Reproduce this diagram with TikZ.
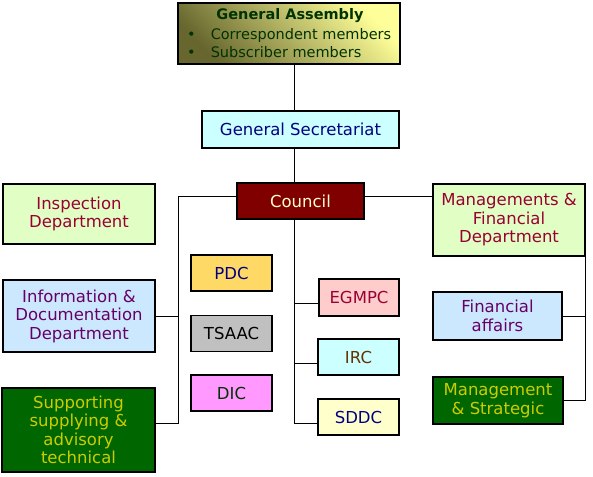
\documentclass[tikz,border=0pt]{standalone}
\usepackage{fontspec}
\setmainfont{DejaVu Sans}
\definecolor{gaDark}{HTML}{66662E}
\definecolor{gaLight}{HTML}{FFFF99}
\definecolor{gaText}{HTML}{003300}
\definecolor{gsFill}{HTML}{CCFFFF}
\definecolor{navyText}{HTML}{000080}
\definecolor{councilFill}{HTML}{800000}
\definecolor{councilText}{HTML}{FFFFCC}
\definecolor{greenFill}{HTML}{E1FFC4}
\definecolor{maroonText}{HTML}{990033}
\definecolor{blueFill}{HTML}{CCE8FF}
\definecolor{purpleText}{HTML}{660066}
\definecolor{darkGreen}{HTML}{006600}
\definecolor{yellowText}{HTML}{CCCC00}
\definecolor{pdcFill}{HTML}{FFD966}
\definecolor{tsaacFill}{HTML}{C0C0C0}
\definecolor{dicFill}{HTML}{FF99FF}
\definecolor{egmpcFill}{HTML}{FFCCCC}
\definecolor{ircText}{HTML}{663300}
\definecolor{sddcFill}{HTML}{FFFFCC}
\begin{document}
\begin{tikzpicture}[x=1pt, y=-1pt,
  box/.style={draw, line width=1.1pt, inner sep=1pt, align=center,
    font=\fontsize{16.5}{18.5}\selectfont},
  small/.style={box, minimum width=81, minimum height=36},
  wire/.style={line width=1pt}]
\useasboundingbox (0,0) rectangle (593,476);
% top of the tree
\node[box, minimum width=222, minimum height=61, top color=gaLight,
  bottom color=gaDark, shading angle=-45] (ga) at (289,33.5){};
\node[font=\bfseries\fontsize{14.5}{18}\selectfont, text=gaText] (gatitle) at (290,16){General Assembly};
\node[anchor=west, inner sep=0, align=left, text=gaText,
  font=\fontsize{14.5}{18}\selectfont] (galist) at (187,43)
  {•\hspace{15pt}Correspondent members\\ •\hspace{15pt}Subscriber members};
\node[box, fill=gsFill, text=navyText, minimum width=197, minimum height=37] (gs) at (300.5,129.5){General Secretariat};
\node[box, fill=councilFill, text=councilText, minimum width=127, minimum height=36] (council) at (300.5,201){Council};
% left column
\node[box, fill=greenFill, text=maroonText, minimum width=152, minimum height=60] (insp) at (79,214){Inspection\\ Department};
\node[box, fill=blueFill, text=purpleText, minimum width=152, minimum height=72] (info) at (79,316){Information \&\\ Documentation\\ Department};
\node[box, fill=darkGreen, text=yellowText, minimum width=153, minimum height=84] (supp) at (78.5,430){Supporting\\ supplying \&\\ advisory\\ technical};
% committees
\node[small, fill=pdcFill, text=navyText] (pdc) at (231.5,273){PDC};
\node[small, fill=tsaacFill, text=black] (tsaac) at (231.5,333.5){TSAAC};
\node[small, fill=dicFill, text=gaText] (dic) at (231.5,393){DIC};
\node[small, fill=egmpcFill, text=maroonText, minimum width=80, minimum height=37] (egmpc) at (359,297.5){EGMPC};
\node[small, fill=gsFill, text=ircText] (irc) at (358.5,357){IRC};
\node[small, fill=sddcFill, text=navyText] (sddc) at (358.5,417){SDDC};
% right column
\node[box, fill=greenFill, text=maroonText, minimum width=152, minimum height=72] (mfd) at (509,220){Managements \&\\ Financial\\ Department};
\node[box, fill=blueFill, text=purpleText, minimum width=129, minimum height=48] (fin) at (497.5,316){Financial\\ affairs};
\node[box, fill=darkGreen, text=yellowText, minimum width=130, minimum height=47] (mgs) at (498,400.5){Management\\ \& Strategic};
\coordinate (spine) at (294.5,0);
\coordinate (lbus) at (178.5,0);
% connectors
\draw[wire] (ga.south -| spine) -- (gs.north -| spine);
\draw[wire] (gs.south -| spine) -- (council.north -| spine);
\draw[wire] (council.south -| spine) |- ([yshift=-6pt]sddc.west);
\draw[wire] ([yshift=-5.5pt]egmpc.west) -- ([yshift=-5.5pt]egmpc.west -| spine);
\draw[wire] ([yshift=-6pt]irc.west) -- ([yshift=-6pt]irc.west -| spine);
\draw[wire] ([yshift=5pt]council.west) -| ([yshift=7pt]supp.east -| lbus) -- ([yshift=7pt]supp.east);
\draw[wire] (info.east) -- (info.east -| lbus);
\draw[wire] ([yshift=5pt]council.east) -- ([yshift=5pt]council.east -| mfd.west);
\draw[wire] (fin.east) -| (mfd.south east);
\draw[wire] (mgs.east) -| (mfd.south east);
\end{tikzpicture}
\end{document}
